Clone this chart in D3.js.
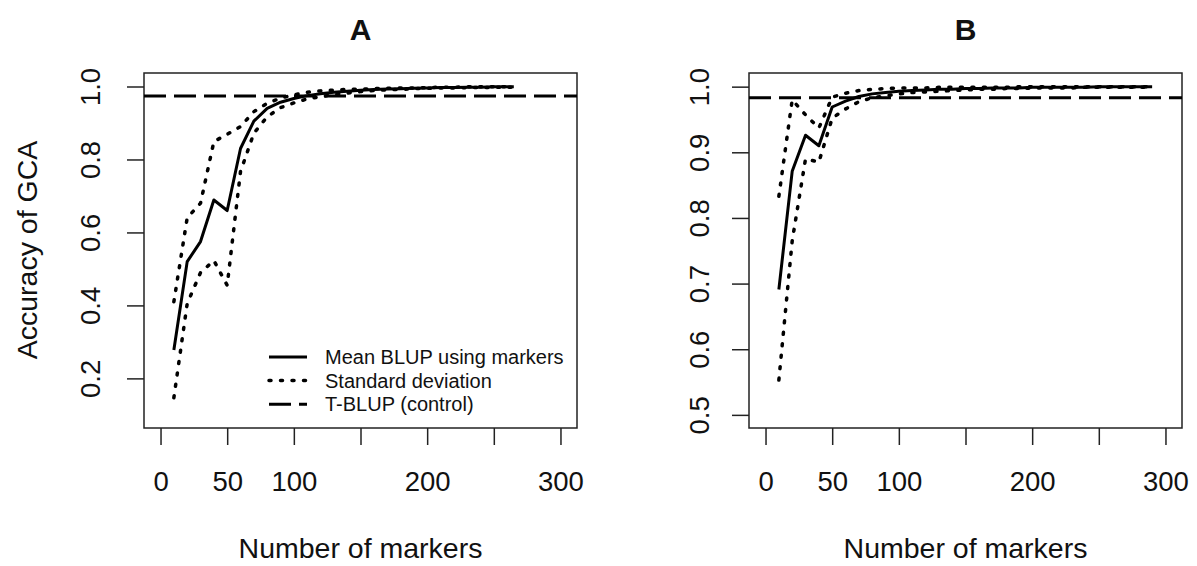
<!DOCTYPE html>
<html>
<head>
<meta charset="utf-8">
<script src="https://cdn.jsdelivr.net/npm/d3@7"></script>
<style>
  body { margin: 0; background: #fff; }
  text { font-family: "Liberation Sans", Arial, sans-serif; fill: #111; }
</style>
</head>
<body>
<div id="chart"></div>
<script>
// data
const panelTitles = ["A", "B"];
const xTicks = [0, 50, 100, 150, 200, 250, 300];
const xTickLabels = ["0", "50", "100", "", "200", "", "300"];
const yTicksA = [0.2, 0.4, 0.6, 0.8, 1.0];
const yTicksB = [0.5, 0.6, 0.7, 0.8, 0.9, 1.0];
const legendLabels = ["Mean BLUP using markers", "Standard deviation", "T-BLUP (control)"];

const markersA = [10, 20, 30, 40, 50, 60, 70, 80, 90, 100, 110, 120, 130, 140, 150, 160, 170, 180, 190, 200, 210, 220, 230, 240, 250, 265];
const meanA = [0.278, 0.52, 0.575, 0.689, 0.66, 0.83, 0.905, 0.94, 0.957, 0.967, 0.975, 0.98, 0.984, 0.987, 0.99, 0.992, 0.993, 0.994, 0.995, 0.996, 0.997, 0.997, 0.998, 0.998, 0.999, 0.999];
const upperA = [0.41, 0.64, 0.68, 0.849, 0.869, 0.89, 0.931, 0.954, 0.968, 0.977, 0.984, 0.988, 0.99, 0.992, 0.993, 0.994, 0.995, 0.996, 0.996, 0.997, 0.998, 0.998, 0.999, 0.999, 0.999, 1.0];
const lowerA = [0.147, 0.405, 0.49, 0.523, 0.455, 0.767, 0.872, 0.917, 0.942, 0.955, 0.966, 0.972, 0.978, 0.982, 0.986, 0.989, 0.991, 0.992, 0.994, 0.995, 0.996, 0.996, 0.997, 0.997, 0.998, 0.998];

const markersB = [10, 20, 30, 40, 50, 60, 70, 80, 90, 100, 110, 120, 130, 140, 150, 160, 170, 180, 190, 200, 210, 220, 230, 240, 250, 260, 270, 280, 290];
const meanB = [0.691, 0.871, 0.926, 0.91, 0.969, 0.978, 0.985, 0.989, 0.991, 0.993, 0.994, 0.995, 0.996, 0.996, 0.997, 0.997, 0.998, 0.998, 0.998, 0.999, 0.999, 0.999, 0.999, 0.999, 1.0, 1.0, 1.0, 1.0, 1.0];
const upperB = [0.833, 0.98, 0.957, 0.937, 0.984, 0.99, 0.994, 0.996, 0.997, 0.998, 0.998, 0.998, 0.999, 0.999, 0.999, 0.999, 0.999, 0.999, 1.0, 1.0, 1.0, 1.0, 1.0, 1.0, 1.0, 1.0, 1.0, 1.0, 1.0];
const lowerB = [0.553, 0.765, 0.89, 0.885, 0.952, 0.966, 0.977, 0.983, 0.986, 0.989, 0.991, 0.992, 0.993, 0.994, 0.995, 0.996, 0.996, 0.997, 0.997, 0.998, 0.998, 0.998, 0.998, 0.999, 0.999, 0.999, 0.999, 0.999, 0.999];

const controlValues = [0.974, 0.983];

const width = 1197, height = 566;
const svg = d3.select("#chart")
  .append("svg")
  .attr("width", width)
  .attr("height", height);

// plot boxes (pixel frames of each panel)
const panels = [
  { left: 144, top: 73, w: 433, h: 355, yDomain: [0.064, 1.037], yTicks: yTicksA, yLabelDx: -44,
    markers: markersA, mean: meanA, upper: upperA, lower: lowerA, legend: true },
  { left: 749, top: 73, w: 433, h: 355, yDomain: [0.480, 1.0208], yTicks: yTicksB, yLabelDx: -40,
    markers: markersB, mean: meanB, upper: upperB, lower: lowerB, legend: false }
];

const dotted = "2 9.5", longdash = "22 8";

panels.forEach(function (p, i) {
  var g = svg.append("g").attr("transform", "translate(" + p.left + "," + p.top + ")");

  var x = d3.scaleLinear().domain([-12.4, 312.4]).range([0, p.w]);
  var y = d3.scaleLinear().domain(p.yDomain).range([p.h, 0]);

  g.append("clipPath").attr("id", "clip" + i)
    .append("rect").attr("width", p.w).attr("height", p.h);

  // x axis
  var xa = g.append("g")
    .attr("transform", "translate(0," + p.h + ")")
    .call(d3.axisBottom(x)
      .tickValues(xTicks)
      .tickFormat(function (d, k) { return xTickLabels[k]; })
      .tickSize(17)
      .tickSizeOuter(0));
  xa.select(".domain").remove();
  xa.selectAll("line").attr("stroke", "#222").attr("stroke-width", 1.5);
  xa.selectAll("text")
    .attr("y", 63).attr("dy", 0)
    .style("font-size", "27.5px")
    .attr("fill", "#111");

  // y axis with rotated labels
  var ya = g.append("g")
    .call(d3.axisLeft(y)
      .tickValues(p.yTicks)
      .tickFormat(d3.format(".1f"))
      .tickSize(17)
      .tickSizeOuter(0));
  ya.select(".domain").remove();
  ya.selectAll("line").attr("stroke", "#222").attr("stroke-width", 1.5);
  ya.selectAll("text")
    .attr("x", 0).attr("dy", 0)
    .attr("y", p.yLabelDx)
    .attr("transform", "rotate(-90)")
    .style("text-anchor", "middle")
    .style("font-size", "27.5px")
    .attr("fill", "#111");

  // frame
  g.append("rect")
    .attr("width", p.w).attr("height", p.h)
    .attr("fill", "none")
    .attr("stroke", "#222")
    .attr("stroke-width", 1.5);

  var line = d3.line()
    .x(function (d) { return x(d[0]); })
    .y(function (d) { return y(d[1]); });

  var plot = g.append("g").attr("clip-path", "url(#clip" + i + ")");

  // control line (abline)
  plot.append("line")
    .attr("x1", 0).attr("x2", p.w)
    .attr("y1", y(controlValues[i])).attr("y2", y(controlValues[i]))
    .attr("stroke", "#000").attr("stroke-width", 3)
    .attr("stroke-dasharray", longdash);

  [p.upper, p.lower].forEach(function (s) {
    plot.append("path")
      .datum(p.markers.map(function (m, k) { return [m, s[k]]; }))
      .attr("d", line)
      .attr("fill", "none")
      .attr("stroke", "#000").attr("stroke-width", 3.5)
      .attr("stroke-linecap", "round")
      .attr("stroke-dasharray", dotted);
  });

  plot.append("path")
    .datum(p.markers.map(function (m, k) { return [m, p.mean[k]]; }))
    .attr("d", line)
    .attr("fill", "none")
    .attr("stroke", "#000").attr("stroke-width", 3)
    .attr("stroke-linejoin", "round");

  // panel title
  svg.append("text")
    .attr("x", p.left + p.w / 2)
    .attr("y", 40)
    .attr("text-anchor", "middle")
    .style("font-size", "30px")
    .style("font-weight", "bold")
    .text(panelTitles[i]);

  // x label
  svg.append("text")
    .attr("x", p.left + p.w / 2)
    .attr("y", 558)
    .attr("text-anchor", "middle")
    .style("font-size", "28.5px")
    .text("Number of markers");

  if (p.legend) {
    var styles = [null, dotted, longdash];
    var lg = g.append("g").attr("transform", "translate(125,284)");
    legendLabels.forEach(function (lab, k) {
      var yy = k * 23.6;
      lg.append("line")
        .attr("x1", 0).attr("x2", 38)
        .attr("y1", yy).attr("y2", yy)
        .attr("stroke", "#000").attr("stroke-width", k === 1 ? 3.5 : 3)
        .attr("stroke-linecap", k === 1 ? "round" : "butt")
        .attr("stroke-dasharray", styles[k]);
      lg.append("text")
        .attr("x", 56).attr("y", yy + 7)
        .style("font-size", "20px")
        .text(lab);
    });
  }
});

// y label (left panel only)
svg.append("text")
  .attr("transform", "translate(37,250) rotate(-90)")
  .attr("text-anchor", "middle")
  .style("font-size", "28.5px")
  .text("Accuracy of GCA");
</script>
</body>
</html>
